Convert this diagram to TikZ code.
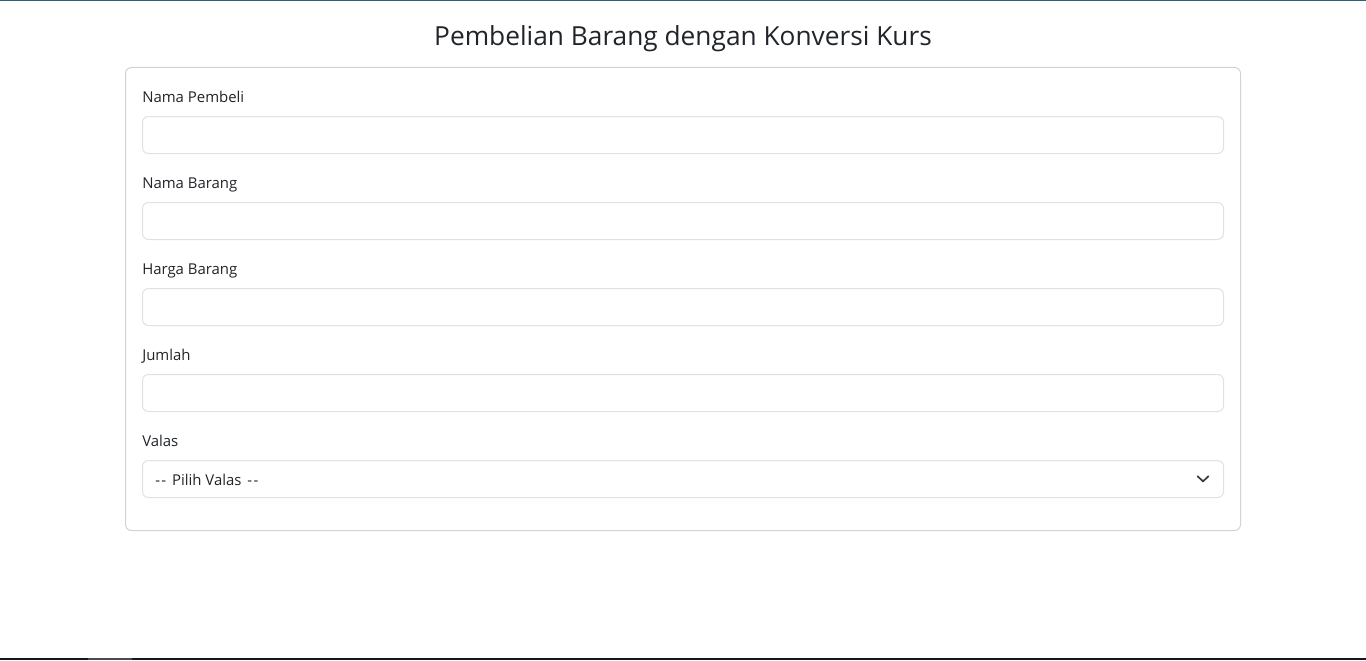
\documentclass[tikz,border=0pt]{standalone}
\usepackage{fontspec}
\setmainfont{Open Sans}
\definecolor{bodytext}{HTML}{212529}
\definecolor{fieldborder}{HTML}{DEE2E6}
\definecolor{cardborder}{HTML}{D3D3D3}
\definecolor{topbar}{HTML}{2F5F78}
\definecolor{taskbar}{HTML}{15171F}
\definecolor{taskbarhi}{HTML}{4A4B50}
\begin{document}
\begin{tikzpicture}[x=0.75pt,y=-0.75pt,
    fieldlabel/.style={anchor=base west, inner sep=0pt, text=bodytext, font=\fontsize{11.2}{13}\selectfont},
    inputbox/.style={draw=fieldborder, line width=0.75pt, rounded corners=4.5pt},
  ]
    \useasboundingbox[fill=white] (0,0) rectangle (1366,660);

    % Window edges
    \fill[topbar] (0,0) rectangle (1366,1.2);
    \fill[taskbar] (0,658) rectangle (1366,660);
    \fill[taskbarhi] (88,658) rectangle (132,660);

    % Heading
    \node[anchor=base, inner sep=0pt, text=bodytext, font=\fontsize{19.7}{24}\selectfont] (title) at (683,46) {Pembelian Barang dengan Konversi Kurs};

    % Card
    \draw[cardborder, line width=0.75pt, rounded corners=4.5pt] (125.5,67.5) rectangle (1240.5,530.5);

    % Labels and inputs
    \node[fieldlabel] (lblpembeli) at (142,102.5) {Nama Pembeli};
    \draw[inputbox] (142.5,116.5) rectangle (1223.5,153.5);

    \node[fieldlabel] (lblbarang) at (142,188.5) {Nama Barang};
    \draw[inputbox] (142.5,202.5) rectangle (1223.5,239.5);

    \node[fieldlabel] (lblharga) at (142,274.5) {Harga Barang};
    \draw[inputbox] (142.5,288.5) rectangle (1223.5,325.5);

    \node[fieldlabel] (lbljumlah) at (142,360.5) {Jumlah};
    \draw[inputbox] (142.5,374.5) rectangle (1223.5,411.5);

    \node[fieldlabel] (lblvalas) at (142,446.5) {Valas};
    \draw[inputbox] (142.5,460.5) rectangle (1223.5,497.5);

    % Select placeholder and chevron
    \node[fieldlabel] (pilihvalas) at (155,485.5) {-\kern1pt-\kern1.5pt\ Pilih Valas\ \kern1.5pt-\kern1pt-};
    \draw[bodytext!90, line width=1.3pt, line cap=round, line join=round] (1197.6,476.2) -- (1203,481.4) -- (1208.4,476.2);
\end{tikzpicture}
\end{document}
